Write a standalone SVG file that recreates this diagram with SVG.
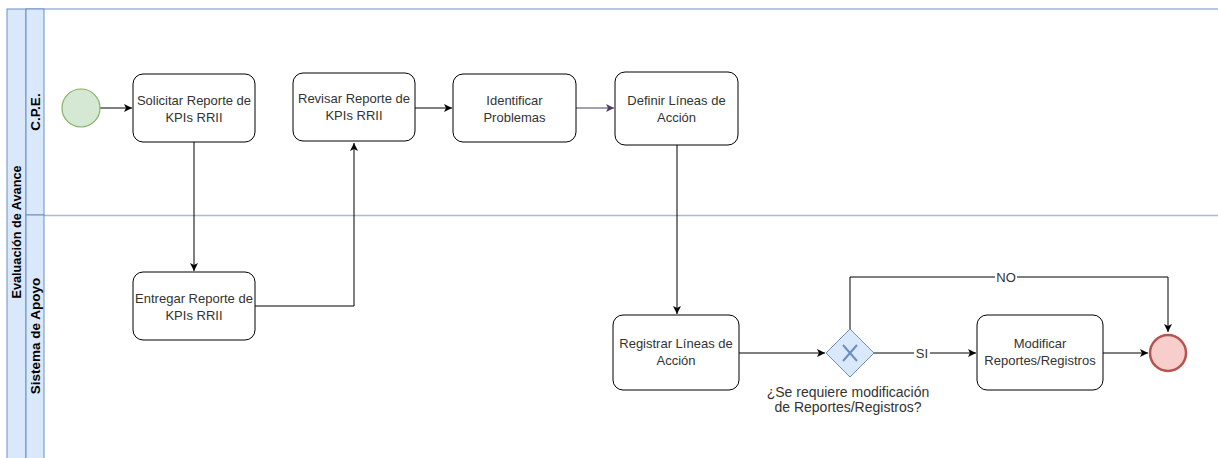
<svg xmlns="http://www.w3.org/2000/svg" width="1218" height="458" viewBox="0 0 1218 458">
<defs>
<style>
text{font-family:"Liberation Sans",Arial,sans-serif;font-size:13px;fill:#333;}
.lbl{font-weight:bold;fill:#000;}
.task{fill:#fff;stroke:#000;stroke-width:1;}
.sw{fill:#dae8fc;stroke:#6c8ebf;stroke-width:1;}
.edge{fill:none;stroke:#000;stroke-width:1;}
.c{text-anchor:middle;}
</style>
<marker id="arr" markerWidth="10" markerHeight="10" refX="8" refY="5" orient="auto" markerUnits="userSpaceOnUse">
<path d="M0,1 L8,5 L0,9 L2,5 Z" fill="#000"/>
</marker>
<marker id="arrP" markerWidth="10" markerHeight="10" refX="8" refY="5" orient="auto" markerUnits="userSpaceOnUse">
<path d="M0,1 L8,5 L0,9 L2,5 Z" fill="#4c3a6e"/>
</marker>
</defs>
<rect width="1218" height="458" fill="#fff"/>
<g id="pool">
<rect class="sw" x="7" y="9" width="19" height="460"/>
<line x1="26" y1="9" x2="1218" y2="9" stroke="#6c8ebf" stroke-width="1.2"/>
<text class="lbl c" style="font-size:12.7px" transform="translate(20.5,232) rotate(-90)">Evaluación de Avance</text>
</g>
<g id="lane-cpe">
<rect class="sw" x="26" y="9" width="18" height="206"/>
<text class="lbl c" style="font-size:13.5px" transform="translate(39.5,112) rotate(-90)">C.P.E.</text>
</g>
<g id="lane-apoyo">
<rect class="sw" x="26" y="215" width="18" height="254"/>
<line x1="44" y1="215.5" x2="1218" y2="215.5" stroke="#6c8ebf" stroke-opacity="0.6" stroke-width="1.5"/>
<text class="lbl c" style="font-size:13.5px" transform="translate(39.5,336) rotate(-90)">Sistema de Apoyo</text>
</g>
<g id="connectors">
<line class="edge" x1="100" y1="108" x2="132" y2="108" marker-end="url(#arr)"/>
<line class="edge" x1="194" y1="142" x2="194" y2="271" marker-end="url(#arr)"/>
<polyline class="edge" points="255,306 354,306 354,143" marker-end="url(#arr)"/>
<line class="edge" x1="415" y1="108" x2="452" y2="108" marker-end="url(#arr)"/>
<line x1="576" y1="108" x2="614" y2="108" stroke="#4c3a6e" stroke-width="1" marker-end="url(#arrP)"/>
<line class="edge" x1="677" y1="145" x2="677" y2="314" marker-end="url(#arr)"/>
<line class="edge" x1="739" y1="353" x2="825" y2="353" marker-end="url(#arr)"/>
<line class="edge" x1="874" y1="353" x2="976" y2="353" marker-end="url(#arr)"/>
<line class="edge" x1="1103" y1="353" x2="1148" y2="353" marker-end="url(#arr)"/>
<polyline class="edge" points="850,329 850,277 1168,277 1168,332" marker-end="url(#arr)"/>
<rect x="914" y="346" width="16" height="14" fill="#fff"/>
<text class="c" x="922" y="357.5">SI</text>
<rect x="995" y="270" width="22" height="14" fill="#fff"/>
<text class="c" x="1006" y="281.5">NO</text>
</g>
<g id="start">
<circle cx="81" cy="108" r="19" fill="#d5e8d4" stroke="#82b366" stroke-width="1.2"/>
</g>
<g id="solicitar">
<rect class="task" x="133" y="74" width="122" height="68" rx="10"/>
<text class="c" x="194" y="105">Solicitar Reporte de</text>
<text class="c" x="194" y="122">KPIs RRII</text>
</g>
<g id="entregar">
<rect class="task" x="133" y="272" width="122" height="68" rx="10"/>
<text class="c" x="194" y="303">Entregar Reporte de</text>
<text class="c" x="194" y="320">KPIs RRII</text>
</g>
<g id="revisar">
<rect class="task" x="293" y="73" width="122" height="68" rx="10"/>
<text class="c" x="354" y="103">Revisar Reporte de</text>
<text class="c" x="354" y="120">KPIs RRII</text>
</g>
<g id="identificar">
<rect class="task" x="453" y="74" width="123" height="68" rx="10"/>
<text class="c" x="514.5" y="105">Identificar</text>
<text class="c" x="514.5" y="122">Problemas</text>
</g>
<g id="definir">
<rect class="task" x="615" y="72" width="123" height="73" rx="10"/>
<text class="c" x="676.5" y="105">Definir Líneas de</text>
<text class="c" x="676.5" y="122">Acción</text>
</g>
<g id="registrar">
<rect class="task" x="613" y="315" width="126" height="75" rx="10"/>
<text class="c" x="676" y="348">Registrar Líneas de</text>
<text class="c" x="676" y="365">Acción</text>
</g>
<g id="gateway">
<path d="M850,329 L874,353 L850,377 L826,353 Z" fill="#dae8fc" stroke="#6c8ebf" stroke-width="1"/>
<path d="M843,345 L857,361 M857,345 L843,361" stroke="#6c8ebf" stroke-width="2" fill="none"/>
<text class="c" style="font-size:14px" x="848" y="396.5">¿Se requiere modificación</text>
<text class="c" style="font-size:14px" x="848" y="411.5">de Reportes/Registros?</text>
</g>
<g id="modificar">
<rect class="task" x="977" y="315" width="126" height="75" rx="10"/>
<text class="c" x="1040" y="348">Modificar</text>
<text class="c" x="1040" y="365">Reportes/Registros</text>
</g>
<g id="end">
<circle cx="1168" cy="353" r="18" fill="#f8cecc" stroke="#b85450" stroke-width="2.5"/>
</g>
</svg>
